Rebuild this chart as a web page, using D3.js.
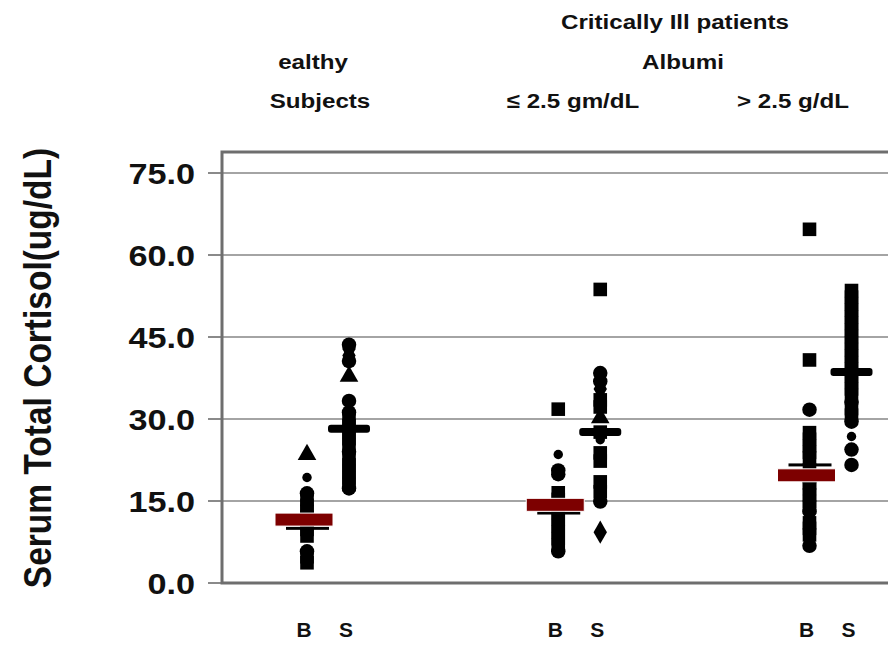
<!DOCTYPE html>
<html><head><meta charset="utf-8">
<script src="https://cdn.jsdelivr.net/npm/d3@7"></script>
<style>
body{margin:0;background:#fff}
svg{display:block}
text{font-family:"Liberation Sans",Arial,sans-serif;font-weight:bold;fill:#111}
</style>
</head><body>
<svg id="c" width="888" height="647"></svg>
<script>
// ---------- data ----------
const groups = ["Healthy", "AlbLow", "AlbHigh"];
const subs = ["B", "S"];
const yTicks = [0, 15, 30, 45, 60, 75];
const yTickLabels = ["0.0", "15.0", "30.0", "45.0", "60.0", "75.0"];

// shape codes: s=square, c=circle, o=small circle, d=diamond, t=triangle
const healthyB      = [3.7, 4.8, 5.8, 8.6, 9.8, 10.9, 12.0, 13.1, 14.2, 15.3, 16.4, 19.3, 23.5];
const healthyBShape = ["s","s","c","s","s","s","s","s","s","s","c","o","t"];
const healthyS      = [17.3, 18.0, 19.2, 20.4, 21.6, 22.8, 24.0, 25.2, 26.4, 27.6, 28.8, 30.0, 31.2, 33.3, 37.8, 40.6, 41.6, 42.8, 43.6];
const healthySShape = ["c","s","s","s","s","s","c","s","s","s","s","s","c","c","t","c","d","d","c"];

const lowB      = [5.8, 6.9, 8.1, 9.3, 10.5, 11.7, 12.9, 14.1, 15.3, 16.5, 19.9, 20.6, 23.5, 31.8];
const lowBShape = ["c","s","s","s","s","s","s","s","s","s","c","c","o","s"];
const lowS      = [9.3, 14.9, 16.7, 18.5, 22.3, 23.8, 26.2, 27.6, 30.2, 32.2, 33.5, 35.5, 36.9, 38.4, 53.7];
const lowSShape = ["d","c","s","s","s","s","o","s","t","s","s","d","c","c","s"];

const highB      = [6.8, 8.8, 10.0, 11.0, 13.1, 13.9, 14.9, 16.1, 17.3, 18.3, 19.5, 20.7, 22.9, 23.9, 25.1, 26.3, 27.5, 31.7, 40.8, 64.7];
const highBShape = ["c","s","s","s","c","s","s","s","s","s","s","s","s","s","s","s","s","c","s","s"];
const highS      = [21.6, 24.4, 26.8, 29.5, 30.7, 31.9, 33.1, 34.3, 35.5, 36.7, 37.9, 39.1, 40.3, 41.5, 42.7, 43.9, 45.1, 46.3, 47.5, 48.7, 49.9, 51.1, 52.3, 53.5];
const highSShape = ["c","c","o","c","s","s","c","s","s","s","s","s","s","s","s","s","s","s","s","s","s","s","s","s"];

const meanB   = [11.6, 14.3, 19.7];   // dark red bars
const medianB = [10.0, 12.8, 21.6];   // thin black bars under red
const meanS   = [28.2, 27.6, 38.6];   // black cross bars

const series = [
  {g: "Healthy", s: "B", v: healthyB, sh: healthyBShape},
  {g: "Healthy", s: "S", v: healthyS, sh: healthySShape},
  {g: "AlbLow",  s: "B", v: lowB,     sh: lowBShape},
  {g: "AlbLow",  s: "S", v: lowS,     sh: lowSShape},
  {g: "AlbHigh", s: "B", v: highB,    sh: highBShape},
  {g: "AlbHigh", s: "S", v: highS,    sh: highSShape}
];

// ---------- scales ----------
const svg = d3.select("#c");
const y = d3.scaleLinear().domain([0, 75]).range([583, 173]);
const xGroup = d3.scalePoint().domain(groups).range([328, 830.5]);
const xSub = d3.scalePoint().domain(subs).range([-21, 21]);
const xCol = (g, s) => xGroup(g) + xSub(s);

const plotLeft = 222, plotRight = 890;
const frameTop = y(75) - 21;

// ---------- grid & frame ----------
svg.append("g").selectAll("line.grid").data(yTicks.filter(d => d > 0)).join("line")
  .attr("x1", plotLeft).attr("x2", plotRight)
  .attr("y1", d => y(d)).attr("y2", d => y(d))
  .attr("stroke", "#a4a4a4").attr("stroke-width", 2);

svg.append("g").selectAll("line.tick").data(yTicks).join("line")
  .attr("x1", plotLeft - 14).attr("x2", plotLeft)
  .attr("y1", d => y(d)).attr("y2", d => y(d))
  .attr("stroke", "#8a8a8a").attr("stroke-width", 2);

svg.append("path")
  .attr("d", `M${plotRight},${frameTop}H${plotLeft}V${y(0)}H${plotRight}`)
  .attr("fill", "none").attr("stroke", "#6e6e6e").attr("stroke-width", 3);

// ---------- text helper ----------
function label(x, yy, str, size, sx, anchor, extra) {
  return svg.append("text")
    .attr("transform", `translate(${x},${yy}) scale(${sx},1)` + (extra || ""))
    .attr("text-anchor", anchor)
    .style("font-size", size + "px")
    .text(str);
}

// y tick labels
yTicks.forEach((t, i) => {
  label(195, y(t) + 10.5, yTickLabels[i], 29, 1.18, "end");
});

// y title
label(51, 368, "Serum Total Cortisol(ug/dL)", 33.5, 1.18, "middle", " rotate(-90)");

// header texts
const hdrSize = 21, hdrSx = 1.15;
label(675, 29, "Critically Ill patients", hdrSize, hdrSx, "middle");
label(313, 69, "ealthy", hdrSize, hdrSx, "middle");
label(683, 69, "Albumi", hdrSize, hdrSx, "middle");
label(320, 108, "Subjects", hdrSize, hdrSx, "middle");
label(573, 108, "\u2264 2.5 gm/dL", hdrSize, hdrSx, "middle");
label(793, 108, "> 2.5 g/dL", hdrSize, hdrSx, "middle");

// bottom B/S labels
groups.forEach(g => subs.forEach(s => {
  label(xCol(g, s) - 3, 637, s, 21, 1.0, "middle");
}));

// ---------- points ----------
const shapeMap = {
  s: d3.symbol().type(d3.symbolSquare).size(185),
  c: d3.symbol().type(d3.symbolCircle).size(165),
  o: d3.symbol().type(d3.symbolCircle).size(70),
  d: d3.symbol().type(d3.symbolDiamond).size(155),
  t: d3.symbol().type(d3.symbolTriangle).size(150)
};

series.forEach(sr => {
  const cx = xCol(sr.g, sr.s);
  svg.append("g").selectAll("path").data(sr.v.map((v, i) => ({v, sh: sr.sh[i]}))).join("path")
    .attr("transform", d => `translate(${cx},${y(d.v)})`)
    .attr("d", d => shapeMap[d.sh]())
    .attr("fill", "#000");
});

// ---------- summary bars ----------
groups.forEach((g, i) => {
  const xb = xCol(g, "B"), xs = xCol(g, "S");
  // thin black bar for B
  svg.append("rect")
    .attr("x", xb - 21).attr("width", 43)
    .attr("y", y(medianB[i]) - 1.5).attr("height", 3)
    .attr("fill", "#000");
  // black cross bar for S
  svg.append("rect")
    .attr("x", xs - 21).attr("width", 42)
    .attr("y", y(meanS[i]) - 4).attr("height", 8)
    .attr("rx", 3)
    .attr("fill", "#000");
  // dark red bar for B
  svg.append("rect")
    .attr("x", xb - 32).attr("width", 58)
    .attr("y", y(meanB[i]) - 6.5).attr("height", 13)
    .attr("fill", "#7d0000")
    .attr("stroke", "#fff").attr("stroke-width", 1);
});
</script>
</body></html>
